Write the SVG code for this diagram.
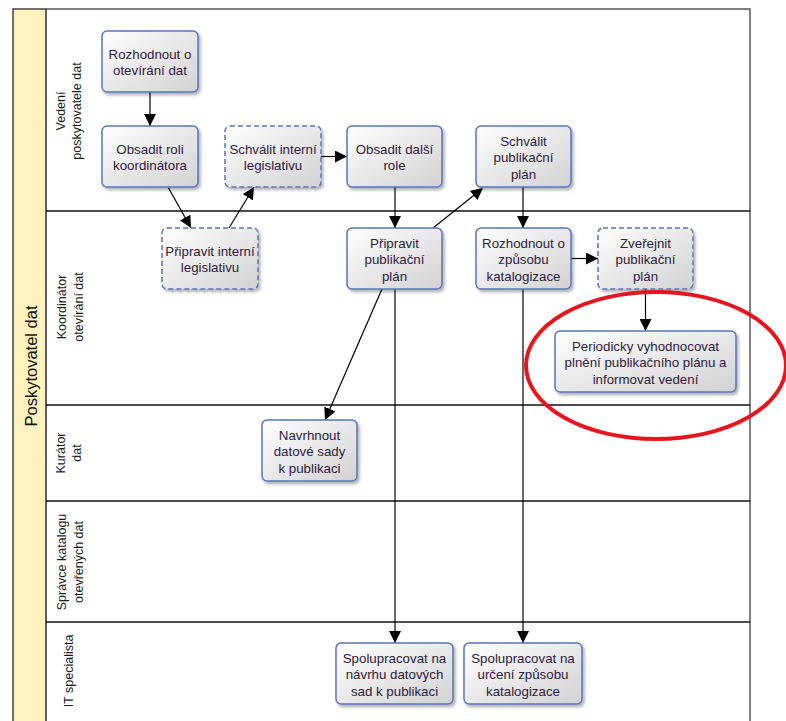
<svg xmlns="http://www.w3.org/2000/svg" width="786" height="721" viewBox="0 0 786 721">
<style>
.node rect{fill:url(#g);stroke:#5676c0;stroke-width:1.5;filter:url(#sh)}
.node.d rect{stroke-dasharray:5 3}
.node text{font-family:"Liberation Sans",Arial,sans-serif;font-size:13.3px;fill:#2f2040;text-anchor:middle}
.lane{font-family:"Liberation Sans",Arial,sans-serif;font-size:12.5px;fill:#1a1a1a;text-anchor:middle}
.conn line{stroke:#000;stroke-width:1.2;marker-end:url(#ah)}
.sep{stroke:#111;stroke-width:1.5}
</style>
<defs>
<linearGradient id="g" x1="0" y1="0" x2="1" y2="1">
<stop offset="0" stop-color="#ffffff"/>
<stop offset="1" stop-color="#d2d2d2"/>
</linearGradient>
<filter id="sh" x="-10%" y="-10%" width="130%" height="140%">
<feDropShadow dx="2" dy="2.5" stdDeviation="1.5" flood-color="#000" flood-opacity="0.3"/>
</filter>
<marker id="ah" markerUnits="userSpaceOnUse" markerWidth="12" markerHeight="12" refX="12" refY="6" orient="auto">
<path d="M0,0 L12,6 L0,12 z" fill="#000"/>
</marker>
</defs>
<rect x="0" y="0" width="786" height="721" fill="#fff"/>
<g id="pool">
<rect x="13" y="9" width="33" height="720" fill="#fff2bd" stroke="#444" stroke-width="1.5"/>
<rect x="46" y="9" width="704" height="720" fill="none" stroke="#555" stroke-width="1.5"/>
<text transform="translate(37,366) rotate(-90)" font-family="Liberation Sans,Arial,sans-serif" font-size="16.5" fill="#111" text-anchor="middle">Poskytovatel dat</text>
<line class="sep" x1="46" y1="211" x2="750" y2="211"/>
<line class="sep" x1="46" y1="405" x2="750" y2="405"/>
<line class="sep" x1="46" y1="501" x2="750" y2="501"/>
<line class="sep" x1="46" y1="622" x2="750" y2="622"/>
<text class="lane" transform="translate(65,111) rotate(-90)"><tspan x="0" y="0">Vedení</tspan><tspan x="0" y="15.5">poskytovatele dat</tspan></text>
<text class="lane" transform="translate(66,307) rotate(-90)"><tspan x="0" y="0">Koordinátor</tspan><tspan x="0" y="16.5">otevírání dat</tspan></text>
<text class="lane" transform="translate(65,453) rotate(-90)"><tspan x="0" y="0">Kurátor</tspan><tspan x="0" y="16">dat</tspan></text>
<text class="lane" transform="translate(66,562) rotate(-90)"><tspan x="0" y="0">Správce katalogu</tspan><tspan x="0" y="16.5">otevřených dat</tspan></text>
<text class="lane" transform="translate(73,671) rotate(-90)">IT specialista</text>
</g>
<g id="connectors" class="conn">
<line x1="150" y1="92" x2="150" y2="126"/>
<line x1="168" y1="187" x2="191" y2="228"/>
<line x1="229" y1="228" x2="254" y2="187"/>
<line x1="321" y1="156.5" x2="347" y2="156.5"/>
<line x1="395" y1="187" x2="395" y2="228"/>
<line x1="433" y1="228" x2="483" y2="188"/>
<line x1="523" y1="187" x2="523" y2="228"/>
<line x1="571" y1="258.5" x2="598" y2="258.5"/>
<line x1="645.5" y1="289" x2="645.5" y2="331"/>
<line x1="382" y1="289" x2="325" y2="420"/>
<line x1="395" y1="289" x2="395" y2="643"/>
<line x1="523" y1="289" x2="523" y2="643"/>
</g>
<g id="n1" class="node"><rect x="102" y="31" width="96" height="61" rx="5"/><text><tspan x="150" y="58.5">Rozhodnout o</tspan><tspan x="150" y="75">otevírání dat</tspan></text></g>
<g id="n2" class="node"><rect x="102" y="126" width="96" height="61" rx="5"/><text><tspan x="150" y="153.5">Obsadit roli</tspan><tspan x="150" y="170">koordinátora</tspan></text></g>
<g id="n3" class="node d"><rect x="225" y="126" width="96" height="61" rx="5"/><text><tspan x="273" y="153.5">Schválit interní</tspan><tspan x="273" y="170">legislativu</tspan></text></g>
<g id="n4" class="node"><rect x="347" y="126" width="95" height="61" rx="5"/><text><tspan x="394.5" y="153.5">Obsadit další</tspan><tspan x="394.5" y="170">role</tspan></text></g>
<g id="n5" class="node"><rect x="476" y="126" width="95" height="61" rx="5"/><text><tspan x="523.5" y="145.5">Schválit</tspan><tspan x="523.5" y="162">publikační</tspan><tspan x="523.5" y="178.5">plán</tspan></text></g>
<g id="n6" class="node d"><rect x="162" y="228" width="96" height="61" rx="5"/><text><tspan x="210" y="255.5">Připravit interní</tspan><tspan x="210" y="272">legislativu</tspan></text></g>
<g id="n7" class="node"><rect x="347" y="228" width="95" height="61" rx="5"/><text><tspan x="394.5" y="247.5">Připravit</tspan><tspan x="394.5" y="264">publikační</tspan><tspan x="394.5" y="280.5">plán</tspan></text></g>
<g id="n8" class="node"><rect x="476" y="228" width="95" height="61" rx="5"/><text><tspan x="523.5" y="247.5">Rozhodnout o</tspan><tspan x="523.5" y="264">způsobu</tspan><tspan x="523.5" y="280.5">katalogizace</tspan></text></g>
<g id="n9" class="node d"><rect x="598" y="228" width="95" height="61" rx="5"/><text><tspan x="645.5" y="247.5">Zveřejnit</tspan><tspan x="645.5" y="264">publikační</tspan><tspan x="645.5" y="280.5">plán</tspan></text></g>
<g id="n10" class="node"><rect x="555" y="331" width="181" height="61" rx="5"/><text><tspan x="645.5" y="350.5">Periodicky vyhodnocovat</tspan><tspan x="645.5" y="367">plnění publikačního plánu a</tspan><tspan x="645.5" y="383.5">informovat vedení</tspan></text></g>
<g id="n11" class="node"><rect x="262" y="420" width="95" height="61" rx="5"/><text><tspan x="309.5" y="439.5">Navrhnout</tspan><tspan x="309.5" y="456">datové sady</tspan><tspan x="309.5" y="472.5">k publikaci</tspan></text></g>
<g id="n12" class="node"><rect x="336" y="643" width="117" height="61" rx="5"/><text><tspan x="394.5" y="662.5">Spolupracovat na</tspan><tspan x="394.5" y="679">návrhu datových</tspan><tspan x="394.5" y="695.5">sad k publikaci</tspan></text></g>
<g id="n13" class="node"><rect x="464" y="643" width="118" height="61" rx="5"/><text><tspan x="523" y="662.5">Spolupracovat na</tspan><tspan x="523" y="679">určení způsobu</tspan><tspan x="523" y="695.5">katalogizace</tspan></text></g>
<ellipse id="highlight" cx="656" cy="365.5" rx="130" ry="73.5" fill="none" stroke="#e5161d" stroke-width="4"/>
</svg>
